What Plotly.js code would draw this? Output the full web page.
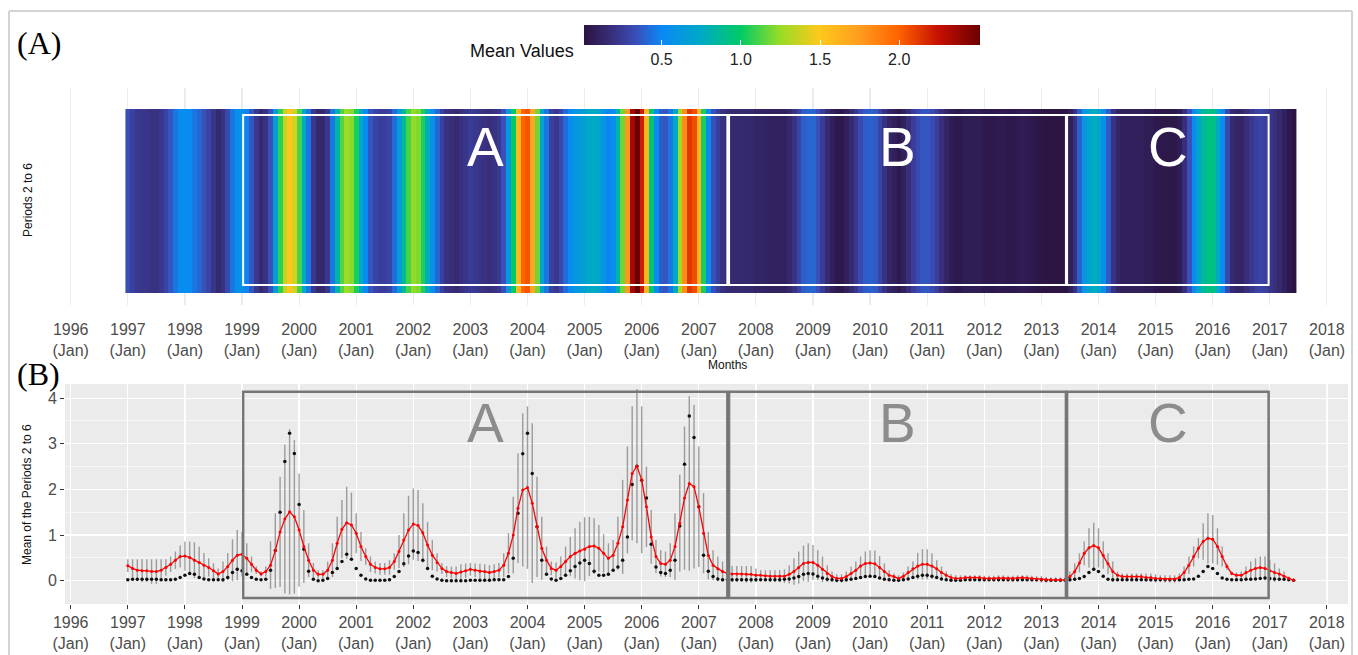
<!DOCTYPE html>
<html><head><meta charset="utf-8">
<script src="https://cdn.plot.ly/plotly-3.0.1.min.js"></script>
<style>html,body{margin:0;padding:0;background:#fff}#chart{width:1358px;height:655px}</style>
</head><body><div id="chart"></div>
<script>
// ---------------- data ----------------
const firstYear = 1997;            // first month = Jan 1997
const axisYears = [1996,1997,1998,1999,2000,2001,2002,2003,2004,2005,2006,2007,2008,2009,2010,2011,2012,2013,2014,2015,2016,2017,2018];
const tickMonth = '(Jan)';

// mean of periods 2 to 6 (red line / heatmap), monthly Jan 1997 - Jun 2017
const meanValues = [
 0.33,0.27,0.23,0.22,0.22,0.20,0.20,0.23,0.29,0.36,0.45,0.53,
 0.54,0.51,0.45,0.40,0.34,0.29,0.22,0.15,0.20,0.31,0.45,0.56,
 0.58,0.49,0.36,0.23,0.15,0.20,0.34,0.66,1.07,1.35,1.51,1.40,
 1.11,0.75,0.45,0.23,0.14,0.14,0.23,0.45,0.82,1.13,1.27,1.22,
 1.04,0.75,0.53,0.36,0.29,0.26,0.26,0.29,0.42,0.64,0.89,1.11,
 1.24,1.21,1.05,0.78,0.56,0.40,0.27,0.20,0.18,0.16,0.19,0.22,
 0.25,0.23,0.21,0.20,0.18,0.20,0.23,0.34,0.60,1.00,1.59,1.99,
 2.04,1.70,1.18,0.71,0.45,0.27,0.23,0.31,0.42,0.53,0.60,0.65,
 0.69,0.75,0.76,0.71,0.60,0.49,0.56,0.82,1.18,1.77,2.35,2.51,
 2.21,1.62,0.96,0.53,0.38,0.36,0.45,0.75,1.26,1.81,2.13,2.06,
 1.62,1.04,0.55,0.34,0.26,0.20,0.16,0.15,0.15,0.15,0.14,0.14,
 0.12,0.12,0.11,0.10,0.10,0.10,0.10,0.14,0.20,0.29,0.38,0.40,
 0.40,0.34,0.25,0.16,0.09,0.05,0.05,0.09,0.16,0.23,0.32,0.38,
 0.39,0.37,0.29,0.20,0.12,0.09,0.05,0.10,0.18,0.26,0.32,0.36,
 0.36,0.32,0.26,0.18,0.12,0.07,0.05,0.05,0.07,0.07,0.07,0.07,
 0.05,0.05,0.05,0.06,0.06,0.05,0.05,0.06,0.07,0.06,0.05,0.04,
 0.03,0.02,0.02,0.02,0.02,0.02,0.09,0.20,0.39,0.60,0.72,0.77,
 0.72,0.56,0.37,0.20,0.12,0.09,0.09,0.09,0.09,0.09,0.07,0.07,
 0.05,0.05,0.04,0.04,0.04,0.07,0.18,0.34,0.53,0.71,0.86,0.93,
 0.91,0.75,0.53,0.31,0.16,0.12,0.12,0.18,0.23,0.27,0.29,0.27,
 0.22,0.18,0.15,0.10,0.05,0.01
];

// black points
const pointValues = [
 0.02,0.03,0.03,0.03,0.03,0.03,0.03,0.02,0.02,0.02,0.03,0.07,
 0.12,0.16,0.14,0.07,0.04,0.02,0.02,0.02,0.02,0.07,0.18,0.25,
 0.22,0.14,0.07,0.03,0.02,0.03,0.23,0.66,1.50,2.61,3.23,2.79,
 1.67,0.69,0.21,0.03,0.00,0.01,0.05,0.18,0.27,0.42,0.58,0.47,
 0.27,0.12,0.04,0.01,0.01,0.01,0.01,0.02,0.09,0.20,0.37,0.54,
 0.65,0.62,0.45,0.27,0.10,0.04,0.01,0.00,0.00,0.00,0.00,0.00,
 0.01,0.01,0.01,0.01,0.01,0.02,0.02,0.02,0.09,0.49,1.48,2.78,
 3.23,2.35,1.18,0.45,0.14,0.04,0.01,0.05,0.12,0.22,0.31,0.39,
 0.45,0.38,0.21,0.12,0.12,0.14,0.23,0.30,0.45,0.96,2.11,2.51,
 2.20,1.81,0.80,0.30,0.18,0.16,0.23,0.45,1.20,2.55,3.61,3.14,
 1.62,0.56,0.21,0.09,0.04,0.02,0.02,0.02,0.02,0.02,0.02,0.02,
 0.02,0.02,0.02,0.02,0.02,0.02,0.03,0.04,0.06,0.09,0.14,0.16,
 0.15,0.10,0.06,0.03,0.02,0.01,0.01,0.02,0.03,0.05,0.07,0.09,
 0.10,0.09,0.06,0.03,0.02,0.01,0.01,0.02,0.04,0.07,0.10,0.12,
 0.12,0.10,0.07,0.04,0.02,0.01,0.01,0.01,0.02,0.02,0.02,0.02,
 0.02,0.02,0.02,0.02,0.02,0.02,0.02,0.02,0.02,0.02,0.02,0.02,
 0.02,0.01,0.01,0.01,0.01,0.01,0.02,0.03,0.05,0.09,0.18,0.25,
 0.20,0.10,0.03,0.02,0.02,0.02,0.02,0.02,0.02,0.02,0.02,0.02,
 0.02,0.02,0.02,0.02,0.02,0.02,0.02,0.03,0.04,0.10,0.20,0.31,
 0.27,0.16,0.06,0.03,0.02,0.02,0.02,0.03,0.03,0.04,0.05,0.06,
 0.05,0.04,0.03,0.03,0.02,0.01
];

// upper end of the grey bars (bars are symmetric around the mean)
const upperValues = [
 0.47,0.47,0.47,0.47,0.47,0.47,0.47,0.47,0.47,0.53,0.64,0.77,
 0.86,0.86,0.84,0.75,0.61,0.49,0.38,0.27,0.42,0.61,0.91,1.11,
 1.07,0.82,0.53,0.31,0.20,0.31,0.86,1.48,2.28,2.98,3.32,3.08,
 2.35,1.55,0.82,0.39,0.23,0.23,0.42,0.82,1.40,1.77,2.06,1.93,
 1.48,1.07,0.71,0.53,0.42,0.39,0.39,0.45,0.60,1.00,1.48,1.86,
 2.02,1.99,1.70,1.29,0.89,0.60,0.39,0.32,0.31,0.31,0.36,0.38,
 0.39,0.38,0.37,0.36,0.34,0.36,0.39,0.60,1.04,1.84,2.79,3.67,
 3.82,3.45,2.28,1.40,0.75,0.42,0.40,0.53,0.75,0.96,1.15,1.29,
 1.39,1.40,1.37,1.22,1.02,0.82,0.89,1.40,2.21,2.94,3.82,4.20,
 3.82,2.50,1.55,0.89,0.67,0.64,0.82,1.48,2.32,3.38,4.04,3.85,
 2.94,1.92,1.07,0.67,0.53,0.42,0.34,0.32,0.32,0.32,0.32,0.32,
 0.27,0.23,0.23,0.23,0.23,0.23,0.25,0.34,0.49,0.64,0.77,0.82,
 0.78,0.67,0.53,0.34,0.20,0.14,0.14,0.20,0.31,0.42,0.53,0.64,
 0.67,0.66,0.54,0.38,0.23,0.16,0.12,0.18,0.31,0.42,0.61,0.69,
 0.69,0.60,0.45,0.31,0.20,0.15,0.12,0.12,0.12,0.12,0.12,0.12,
 0.11,0.11,0.11,0.12,0.12,0.11,0.11,0.12,0.12,0.12,0.11,0.10,
 0.10,0.08,0.07,0.07,0.07,0.07,0.20,0.38,0.60,0.86,1.15,1.27,
 1.15,0.86,0.60,0.42,0.20,0.16,0.16,0.16,0.16,0.16,0.16,0.16,
 0.14,0.12,0.12,0.12,0.12,0.16,0.31,0.53,0.75,0.93,1.26,1.48,
 1.44,1.15,0.75,0.38,0.20,0.18,0.20,0.31,0.42,0.49,0.53,0.53,
 0.45,0.38,0.27,0.20,0.09,0.01
];

const periodLabels = ['A','B','C'];
const periodStart = [1999.02, 2007.53, 2013.45];
const periodEnd   = [2007.50, 2013.43, 2016.98];
const colorbarTicks = [0.5, 1.0, 1.5, 2.0];

// ---------------- build ----------------
const W = 1358, H = 655;
const px = x => x / W, py = y => 1 - y / H;
const monthX = meanValues.map((_, i) => firstYear + i / 12);
const barHalf = upperValues.map((u, i) => Math.max(0, u - meanValues[i]));
const tickText = axisYears.map(y => y + '<br>' + tickMonth);

const colorscale = [
 [0.00,'#2b1340'],[0.07,'#382f7c'],[0.13,'#3a4db8'],[0.195,'#0a88f5'],
 [0.295,'#00a9c6'],[0.395,'#00cb66'],[0.495,'#97dc26'],[0.595,'#ffc81c'],
 [0.695,'#ff9d1e'],[0.795,'#ff6200'],[0.895,'#c61000'],[1.00,'#6b0000']
];

const traces = [
 {type:'heatmap', x: monthX, y:[0], z:[meanValues], xaxis:'x2', yaxis:'y2',
  colorscale: colorscale, zsmooth:false, hoverinfo:'skip',
  colorbar:{orientation:'h', x:px(782), xanchor:'center', y:py(25), yanchor:'top',
    len:396, lenmode:'pixels', thickness:20, xpad:0, ypad:0, outlinewidth:0,
    tickvals: colorbarTicks, ticktext: colorbarTicks.map(v => v.toFixed(1)),
    ticks:'inside', ticklen:5, tickcolor:'white', tickwidth:1,
    tickfont:{size:16, color:'#222', family:'Liberation Sans, Arial, sans-serif'}}},
 {type:'scatter', mode:'markers', x: monthX, y: meanValues, xaxis:'x', yaxis:'y',
  marker:{size:1, color:'rgba(0,0,0,0)'}, hoverinfo:'skip',
  error_y:{type:'data', symmetric:true, array: barHalf, visible:true,
    color:'rgba(135,135,135,0.8)', thickness:1.4, width:0}},
 {type:'scatter', mode:'markers', x: monthX, y: pointValues, xaxis:'x', yaxis:'y',
  marker:{size:3.5, color:'#111'}},
 {type:'scatter', mode:'lines+markers', x: monthX, y: meanValues, xaxis:'x', yaxis:'y',
  line:{color:'#ff0000', width:1.3}, marker:{size:3, color:'#ff0000'}}
];

const shapes = [
 {type:'rect', xref:'x domain', yref:'y domain', x0:0, x1:1, y0:0, y1:1,
  fillcolor:'#ebebeb', line:{width:0}, layer:'below'},
 {type:'line', xref:'paper', yref:'paper', x0:px(9), x1:px(1352), y0:py(11), y1:py(11), line:{color:'#d4d4d4', width:2}},
 {type:'line', xref:'paper', yref:'paper', x0:px(9), x1:px(9), y0:py(11), y1:py(655), line:{color:'#d4d4d4', width:2}},
 {type:'line', xref:'paper', yref:'paper', x0:px(1352), x1:px(1352), y0:py(11), y1:py(655), line:{color:'#d4d4d4', width:2}}
];
const annotations = [];
periodLabels.forEach((lab, i) => {
  shapes.push({type:'rect', xref:'x2', yref:'y2', x0:periodStart[i], x1:periodEnd[i], y0:-0.457, y1:0.467,
    line:{color:'white', width:2}, fillcolor:'rgba(0,0,0,0)', layer:'above'});
  shapes.push({type:'rect', xref:'x', yref:'y', x0:periodStart[i], x1:periodEnd[i], y0:-0.38, y1:4.14,
    line:{color:'#767676', width:2.5}, fillcolor:'rgba(0,0,0,0)', layer:'above'});
  const mid = (periodStart[i] + periodEnd[i]) / 2;
  annotations.push({xref:'x2', yref:'y2', x:mid, y:0.293, text:lab, showarrow:false,
    xanchor:'center', yanchor:'middle',
    font:{size:55, color:'white', family:'Liberation Sans, Arial, sans-serif'}});
  annotations.push({xref:'x', yref:'y', x:mid, y:3.46, text:lab, showarrow:false,
    xanchor:'center', yanchor:'middle',
    font:{size:55, color:'#8c8c8c', family:'Liberation Sans, Arial, sans-serif'}});
});
const txt = (x, y, text, size, extra) => Object.assign({xref:'paper', yref:'paper', x:px(x), y:py(y),
  xanchor:'center', yanchor:'middle',
  text:text, showarrow:false, font:{size:size, color:'#111', family:'Liberation Sans, Arial, sans-serif'}}, extra || {});
annotations.push(txt(15, 43, '(A)', 32, {xanchor:'left', font:{size:32, color:'#000', family:'Liberation Serif, Times New Roman, serif'}}));
annotations.push(txt(15, 374, '(B)', 32, {xanchor:'left', font:{size:32, color:'#000', family:'Liberation Serif, Times New Roman, serif'}}));
annotations.push(txt(522, 51, 'Mean Values', 18));
annotations.push(txt(28, 200, 'Periods 2 to 6', 12, {textangle:-90}));
annotations.push(txt(727, 365, 'Months', 12));
annotations.push(txt(27, 495, 'Mean of the Periods 2 to 6', 12, {textangle:-90}));

const xDomain = [px(65), px(1348)];
const xRange = [1995.9, 2018.37];
const layout = {
  width: W, height: H, margin:{l:0, r:0, t:0, b:0},
  paper_bgcolor:'white', plot_bgcolor:'white', showlegend:false,
  font:{family:'Liberation Sans, Arial, sans-serif', color:'#4d4d4d'},
  xaxis:{domain:xDomain, range:xRange, anchor:'y', tickvals:axisYears, ticktext:tickText,
    tickfont:{size:16, color:'#4d4d4d'}, ticks:'outside', ticklen:4, tickcolor:'#333',
    showgrid:true, gridcolor:'white', gridwidth:1.3, zeroline:false, showline:false},
  yaxis:{domain:[py(604), py(384)], range:[-0.51, 4.31], anchor:'x', tickvals:[0,1,2,3,4],
    tickfont:{size:16, color:'#4d4d4d'}, ticks:'outside', ticklen:4, tickcolor:'#333',
    showgrid:true, gridcolor:'white', gridwidth:1.3, zeroline:false, showline:false,
    minor:{tickvals:[0.5,1.5,2.5,3.5], showgrid:true, gridcolor:'white', gridwidth:0.6, ticks:''}},
  xaxis2:{domain:xDomain, range:xRange, anchor:'y2', tickvals:axisYears, ticktext:tickText,
    tickfont:{size:16, color:'#4d4d4d'}, ticks:'outside', ticklen:10, tickcolor:'rgba(0,0,0,0)',
    showgrid:true, gridcolor:'#ebebeb', gridwidth:1.2, zeroline:false, showline:false},
  yaxis2:{domain:[py(305), py(88)], range:[-0.5652, 0.6141], anchor:'x2',
    showticklabels:false, showgrid:false, zeroline:false, ticks:''},
  shapes: shapes, annotations: annotations
};
Plotly.newPlot('chart', traces, layout, {staticPlot:true, displayModeBar:false});
</script></body></html>
